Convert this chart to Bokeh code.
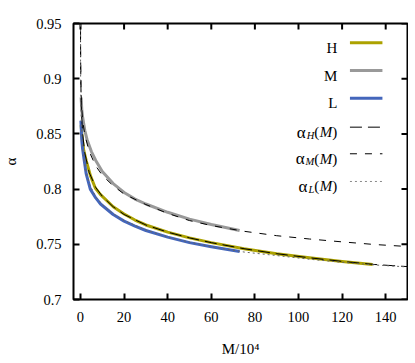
import math
from bokeh.plotting import figure
from bokeh.models import FixedTicker, Range1d
from bokeh.core.properties import value
from bokeh.embed import file_html
from bokeh.resources import INLINE

# ---------------- data ----------------
x_ticks = [0, 20, 40, 60, 80, 100, 120, 140]
x_tick_labels = ["0", "20", "40", "60", "80", "100", "120", "140"]
y_ticks = [0.7, 0.75, 0.8, 0.85, 0.9, 0.95]
y_tick_labels = ["0.7", "0.75", "0.8", "0.85", "0.9", "0.95"]

series_names = ["H", "M", "L"]

# measured curves (M / 10^4 , alpha)
H_x = [0.3, 0.7, 1.5, 2.6, 4.6, 6.8, 9.2, 15, 20, 25, 30, 40, 50, 60, 75, 90, 105, 120, 134]
H_alpha = [0.858, 0.848, 0.835, 0.826, 0.812, 0.801, 0.795, 0.784, 0.7775, 0.772, 0.7675,
           0.761, 0.7558, 0.7515, 0.746, 0.7415, 0.7378, 0.7345, 0.7317]

M_x = [0.3, 0.6, 1, 2, 3, 5, 7, 10, 15, 20, 25, 30, 40, 50, 60, 73]
M_alpha = [0.883, 0.872, 0.865, 0.853, 0.845, 0.834, 0.826, 0.816, 0.805, 0.797, 0.791,
           0.7865, 0.779, 0.7728, 0.768, 0.7625]

L_x = [0.2, 0.6, 1.0, 1.5, 2.6, 4.5, 7, 9.2, 15, 20, 25, 30, 40, 50, 60, 73]
L_alpha = [0.862, 0.844, 0.836, 0.829, 0.814, 0.800, 0.792, 0.7865, 0.777, 0.771, 0.7665,
           0.7625, 0.7565, 0.7515, 0.7478, 0.7435]

# fitted curves alpha_H(M), alpha_M(M), alpha_L(M)
fit_x = [0.01, 0.02, 0.05, 0.1, 0.2, 0.5, 1, 2, 4, 7, 10, 15, 20, 30, 40, 50, 60, 75,
         90, 105, 120, 135, 150]
fitH_alpha = [0.98, 0.96, 0.932, 0.912, 0.893, 0.868, 0.85, 0.8325, 0.815, 0.8015, 0.7935,
              0.784, 0.777, 0.7675, 0.761, 0.7558, 0.7515, 0.746, 0.7415, 0.7378, 0.7345,
              0.7317, 0.7298]
fitM_alpha = [0.953, 0.94, 0.921, 0.908, 0.894, 0.876, 0.862, 0.849, 0.834, 0.821, 0.8125,
              0.803, 0.7955, 0.786, 0.778, 0.7715, 0.767, 0.7618, 0.7578, 0.7548, 0.7522,
              0.7498, 0.748]
fitL_alpha = [0.949, 0.931, 0.908, 0.891, 0.874, 0.852, 0.836, 0.82, 0.805, 0.793, 0.786,
              0.7775, 0.7715, 0.763, 0.7565, 0.752, 0.7478, 0.743, 0.7398, 0.7365, 0.7337,
              0.7313, 0.7295]

# ---------------- styles ----------------
FONT = "Liberation Serif"
col_H = "#aca200"
col_M = "#999999"
col_L = "#4466bb"
X_LO, X_HI = -3.2, 150
Y_LO, Y_HI = 0.7, 0.95

p = figure(width=408, height=362, x_range=Range1d(X_LO, X_HI), y_range=Range1d(Y_LO, Y_HI),
           output_backend="svg", toolbar_location=None,
           min_border_left=73, min_border_right=1, min_border_top=23, min_border_bottom=63)
p.grid.visible = False
p.outline_line_color = "black"
p.outline_line_width = 2
p.outline_line_alpha = 1.0
p.background_fill_color = "white"
p.border_fill_color = "white"

xa = p.xaxis[0]
xa.ticker = FixedTicker(ticks=x_ticks)
xa.major_label_overrides = dict(zip(x_ticks, x_tick_labels))
ya = p.yaxis[0]
ya.ticker = FixedTicker(ticks=y_ticks)
ya.major_label_overrides = dict(zip(y_ticks, y_tick_labels))
for ax in (xa, ya):
    ax.axis_line_color = None
    ax.major_tick_in = 6
    ax.major_tick_out = 0
    ax.major_tick_line_width = 2
    ax.minor_tick_line_color = None
    ax.major_label_text_font = FONT
    ax.major_label_text_font_size = "14.5px"
    ax.major_label_text_color = "black"
    ax.axis_label_text_font = FONT
    ax.axis_label_text_font_size = "15px"
    ax.axis_label_text_font_style = "normal"
    ax.axis_label_text_color = "black"
xa.major_label_standoff = 12
xa.axis_label = "M/10⁴"
xa.axis_label_standoff = 16
ya.major_label_standoff = 12
ya.axis_label = "α"
ya.axis_label_standoff = 14

# mirrored inward ticks on the top and right edges (6 px long, screen units)
p.ray(x=x_ticks, y=[Y_HI] * len(x_ticks), length=6, length_units="screen",
      angle=-math.pi / 2, line_color="black", line_width=2)
p.ray(x=[X_HI] * len(y_ticks), y=y_ticks, length=6, length_units="screen",
      angle=math.pi, line_color="black", line_width=2)

# measured data
p.line(H_x, H_alpha, line_color=col_H, line_width=3, line_join="round")
p.line(M_x, M_alpha, line_color=col_M, line_width=3, line_join="round")
p.line(L_x, L_alpha, line_color=col_L, line_width=3, line_join="round")

# fits
dash_H = "12 6"
dash_M = "7 8"
dash_L = "2 3"
p.line(fit_x, fitH_alpha, line_color="black", line_width=1, line_dash=dash_H)
p.line(fit_x, fitM_alpha, line_color="black", line_width=1, line_dash=dash_M)
p.line(fit_x, fitL_alpha, line_color="#666666", line_width=1, line_dash=dash_L)

# ---------------- legend (gnuplot style: label right, sample left) ----------------
leg_tx = 117.8
leg_x0, leg_x1 = 123.6, 138.5
leg_y = [0.9325, 0.9074, 0.8823, 0.8561, 0.8320, 0.8069]
base = 5  # px, baseline below row centre

p.text(x=[leg_tx] * 3, y=leg_y[:3], text=series_names, text_align="right",
       text_baseline="alphabetic", y_offset=base, text_font=value(FONT),
       text_font_size="15px", text_color="black")
for yy, c in zip(leg_y[:3], [col_H, col_M, col_L]):
    p.segment(x0=[leg_x0], y0=[yy], x1=[leg_x1], y1=[yy], line_color=c, line_width=3)

sub_w = {"H": 7.6, "M": 8.7, "L": 5.8}
for yy, s, dsh, lc in zip(leg_y[3:], series_names, [dash_H, dash_M, dash_L],
                          ["black", "black", "#888888"]):
    common = dict(text_baseline="alphabetic", text_align="right", text_font=value(FONT),
                  text_color="black")
    p.text(x=[leg_tx], y=[yy], text=[")"], x_offset=0, y_offset=base,
           text_font_size="15px", **common)
    p.text(x=[leg_tx], y=[yy], text=["M"], x_offset=-5, y_offset=base,
           text_font_size="15px", text_font_style="italic", **common)
    p.text(x=[leg_tx], y=[yy], text=["("], x_offset=-18, y_offset=base,
           text_font_size="15px", **common)
    p.text(x=[leg_tx], y=[yy], text=[s], x_offset=-23, y_offset=base + 3,
           text_font_size="10.5px", text_font_style="italic", **common)
    p.text(x=[leg_tx], y=[yy], text=["α"], x_offset=-24 - sub_w[s], y_offset=base,
           text_font_size="17px", **common)
    p.segment(x0=[leg_x0], y0=[yy], x1=[leg_x1], y1=[yy], line_color=lc, line_width=1,
              line_dash=dsh)

open("out.html", "w").write(file_html(p, INLINE))
